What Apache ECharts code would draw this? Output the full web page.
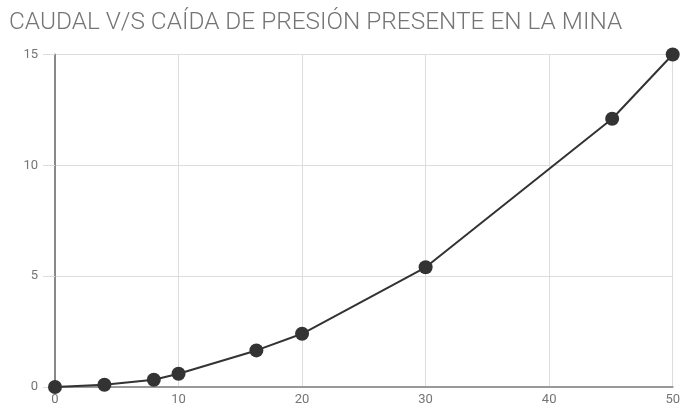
<!DOCTYPE html>
<html><head><meta charset="utf-8">
<script src="https://cdn.jsdelivr.net/npm/echarts@6/dist/echarts.min.js"></script>
<style>html,body{margin:0;padding:0;background:#fff}#c{width:683px;height:410px}</style>
</head><body><div id="c"></div>
<script>
const titleText = 'CAUDAL V/S CAÍDA DE PRESIÓN PRESENTE EN LA MINA';
const caudal = [0, 4, 8, 10, 16.3, 20, 30, 45.1, 50];
const caida = [0, 0.1, 0.33, 0.6, 1.65, 2.4, 5.4, 12.1, 15];
const xTicks = [0, 10, 20, 30, 40, 50];
const yTicks = [0, 5, 10, 15];

const chart = echarts.init(document.getElementById('c'));
chart.setOption({
  animation: false,
  title: {
    text: titleText, left: 4, top: 6,
    textStyle: {fontFamily: 'Roboto', fontWeight: 300, fontSize: 24.4, color: '#757575'}
  },
  grid: {left: 55, right: 10, top: 54.5, bottom: 23},
  xAxis: {
    type: 'value', min: xTicks[0], max: xTicks[xTicks.length-1], interval: 10,
    axisLine: {show: true, onZero: false, lineStyle: {color: '#999', width: 2}},
    axisTick: {show: false},
    splitLine: {show: true, lineStyle: {color: '#ddd', width: 1}},
    axisLabel: {color: '#757575', fontFamily: 'Roboto', fontSize: 13, margin: 6}
  },
  yAxis: {
    type: 'value', min: yTicks[0], max: yTicks[yTicks.length-1], interval: 5,
    axisLine: {show: true, onZero: false, lineStyle: {color: '#888', width: 2}},
    axisTick: {show: true, length: 12, lineStyle: {color: '#ddd'}},
    splitLine: {show: true, lineStyle: {color: '#ddd', width: 1}},
    axisLabel: {color: '#757575', fontFamily: 'Roboto', fontSize: 13, margin: 17}
  },
  series: [{
    type: 'line',
    data: caudal.map((x, i) => [x, caida[i]]),
    symbol: 'circle', symbolSize: 14,
    itemStyle: {color: '#333'},
    lineStyle: {color: '#333', width: 2},
    z: 1
  }]
});
</script></body></html>
